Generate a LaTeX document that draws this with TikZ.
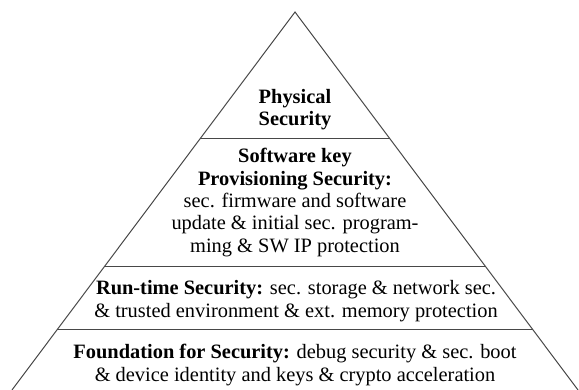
\documentclass[tikz,border=0pt]{standalone}
\usepackage{fontspec}
\setmainfont{Liberation Serif}
\usepackage{xcolor}
\definecolor{pyEdge}{RGB}{72,72,72}
\usetikzlibrary{calc}

\begin{document}
\begin{tikzpicture}[x=0.5pt,y=-0.5pt,
  l/.style={align=center,font=\fontsize{10.2}{11.2}\selectfont,inner sep=0pt},
  e/.style={pyEdge,line width=0.5pt}]
  \useasboundingbox (0,0) rectangle (579,390);
  \coordinate (top) at (295,12);
  \coordinate (bl) at (12,390);
  \coordinate (br) at (578,390);
  % pyramid outline, base runs off the page
  \draw[e] (bl) -- (top) -- (br);
  % layer borders
  \foreach \t in {0.3347,0.6733,0.84}
    \draw[e] ($(top)!\t!(bl)$) -- ($(top)!\t!(br)$);
  \node[l] (phy) at (295,109.5) {\textbf{Physical}\\\textbf{Security}};
  \node[l] (prov) at (295,202.5) {\textbf{Software key}\\\textbf{Provisioning Security:}\\
    sec. firmware and software\\update \& initial sec. program-\\ming \& SW IP protection};
  \node[l] (run) at (296,301) {\textbf{Run-time Security:} sec. storage \& network sec.\\
    \& trusted environment \& ext. memory protection};
  \node[l] (fnd) at (295,365) {\textbf{Foundation for Security:} debug security \& sec. boot\\
    \& device identity and keys \& crypto acceleration};
\end{tikzpicture}
\end{document}
